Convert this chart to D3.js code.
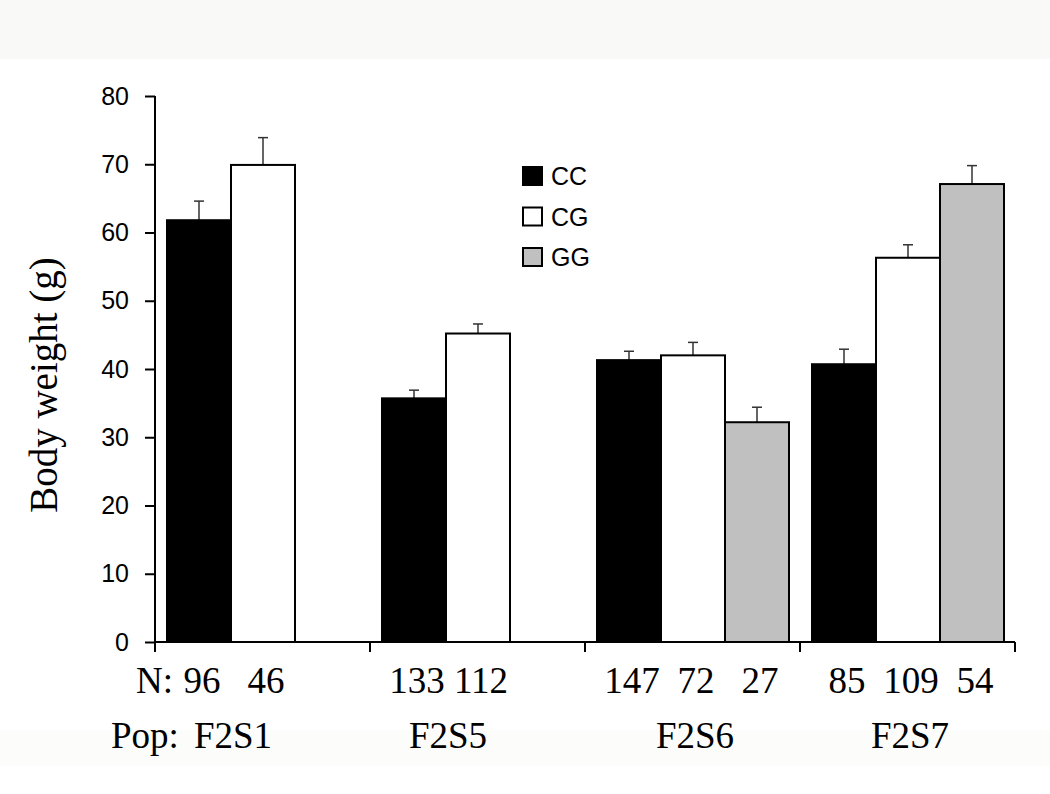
<!DOCTYPE html>
<html>
<head>
<meta charset="utf-8">
<script src="https://cdn.jsdelivr.net/npm/d3@7"></script>
<style>
  body { margin: 0; background: #fff; }
  svg { display: block; }
</style>
</head>
<body>
<div id="chart"></div>
<script>
const pops = ["F2S1", "F2S5", "F2S6", "F2S7"];
const genotypes = ["CC", "CG", "GG"];
const colors = { CC: "#000000", CG: "#ffffff", GG: "#c0c0c0" };

// mean body weight per pop, per genotype (null = not present)
const means = {
  F2S1: [61.8, 69.9, null],
  F2S5: [35.7, 45.2, null],
  F2S6: [41.3, 42.0, 32.2],
  F2S7: [40.7, 56.3, 67.1]
};
const errs = {
  F2S1: [2.8, 4.0, null],
  F2S5: [1.2, 1.4, null],
  F2S6: [1.3, 1.9, 2.2],
  F2S7: [2.2, 1.9, 2.7]
};
const counts = {
  F2S1: [96, 46, null],
  F2S5: [133, 112, null],
  F2S6: [147, 72, 27],
  F2S7: [85, 109, 54]
};
const yTicks = [0, 10, 20, 30, 40, 50, 60, 70, 80];

const w = 1050;
const h = 794;
const margin = { left: 155, right: 35, top: 96, bottom: 152 };
const sans = "Liberation Sans, Arial, sans-serif";
const serif = "Liberation Serif, Times New Roman, serif";

const svg = d3.select("#chart")
  .append("svg")
  .attr("width", w)
  .attr("height", h);

// light scan band at the top
svg.append("rect")
  .attr("x", 0).attr("y", 0)
  .attr("width", w).attr("height", 59)
  .attr("fill", "#f9f9f7");
svg.append("rect")
  .attr("x", 0).attr("y", 730)
  .attr("width", w).attr("height", 36)
  .attr("fill", "#fcfcfb");

const x = d3.scaleBand()
  .domain(pops)
  .range([margin.left, w - margin.right]);

const xIn = d3.scaleBand()
  .domain(genotypes)
  .range([12, x.bandwidth() - 11]);

const y = d3.scaleLinear()
  .domain([0, 80])
  .range([h - margin.bottom, margin.top]);

// flatten to bars
let bars = [];
pops.forEach(p => {
  genotypes.forEach((g, i) => {
    if (means[p][i] != null) {
      bars.push({ pop: p, geno: g, v: means[p][i], e: errs[p][i], n: counts[p][i] });
    }
  });
});

const barX = d => x(d.pop) + xIn(d.geno);

// error bars (drawn first so bars cover the lower part)
const eb = svg.append("g");
eb.selectAll("line.stem")
  .data(bars)
  .enter()
  .append("line")
  .attr("x1", d => barX(d) + xIn.bandwidth() / 2)
  .attr("x2", d => barX(d) + xIn.bandwidth() / 2)
  .attr("y1", d => y(d.v))
  .attr("y2", d => y(d.v + d.e))
  .attr("stroke", "#333")
  .attr("stroke-width", 1.5);
eb.selectAll("line.cap")
  .data(bars)
  .enter()
  .append("line")
  .attr("x1", d => barX(d) + xIn.bandwidth() / 2 - 5)
  .attr("x2", d => barX(d) + xIn.bandwidth() / 2 + 5)
  .attr("y1", d => y(d.v + d.e))
  .attr("y2", d => y(d.v + d.e))
  .attr("stroke", "#333")
  .attr("stroke-width", 1.5);

// bars
svg.append("g")
  .selectAll("rect")
  .data(bars)
  .enter()
  .append("rect")
  .attr("x", d => barX(d))
  .attr("y", d => y(d.v))
  .attr("width", xIn.bandwidth())
  .attr("height", d => y(0) - y(d.v))
  .attr("fill", d => colors[d.geno])
  .attr("stroke", "#000")
  .attr("stroke-width", 2);

// y axis
const yAxis = d3.axisLeft(y)
  .tickValues(yTicks)
  .tickSize(10)
  .tickPadding(16);
const ya = svg.append("g")
  .attr("transform", `translate(${margin.left},0)`)
  .call(yAxis);
ya.select(".domain").attr("d", `M0,${y(80)}V${y(0) + 10}`).attr("stroke-width", 2);
ya.selectAll(".tick line").attr("stroke-width", 2);
ya.selectAll(".tick text")
  .attr("font-family", sans)
  .attr("font-size", 25)
  .attr("fill", "#000");

// x axis: only group boundary ticks
const xa = svg.append("g");
xa.append("line")
  .attr("x1", margin.left)
  .attr("x2", x.range()[1])
  .attr("y1", y(0))
  .attr("y2", y(0))
  .attr("stroke", "#000")
  .attr("stroke-width", 2);
xa.selectAll("line.bound")
  .data(pops.slice(1).map(p => x(p)).concat([x.range()[1]]))
  .enter()
  .append("line")
  .attr("x1", d => d)
  .attr("x2", d => d)
  .attr("y1", y(0))
  .attr("y2", y(0) + 10)
  .attr("stroke", "#000")
  .attr("stroke-width", 2);

// y title
svg.append("text")
  .attr("transform", `translate(57,${(y(0) + y(80)) / 2 + 16}) rotate(-90)`)
  .attr("text-anchor", "middle")
  .attr("font-family", serif)
  .attr("font-size", 39)
  .text("Body weight (g)");

// N counts
svg.append("g")
  .selectAll("text")
  .data(bars)
  .enter()
  .append("text")
  .attr("x", d => barX(d) + xIn.bandwidth() / 2 + 3)
  .attr("y", 693)
  .attr("text-anchor", "middle")
  .attr("font-family", serif)
  .attr("font-size", 37)
  .text(d => d.n);
svg.append("text")
  .attr("x", 136)
  .attr("y", 693)
  .attr("font-family", serif)
  .attr("font-size", 37)
  .text("N:");

// Pop labels, centred under the bars present
svg.append("g")
  .selectAll("text")
  .data(pops)
  .enter()
  .append("text")
  .attr("x", p => {
    const b = bars.filter(d => d.pop === p);
    return (barX(b[0]) + barX(b[b.length - 1]) + xIn.bandwidth()) / 2 + 2;
  })
  .attr("y", 748)
  .attr("text-anchor", "middle")
  .attr("font-family", serif)
  .attr("font-size", 37)
  .text(p => p);
svg.append("text")
  .attr("x", 111)
  .attr("y", 748)
  .attr("font-family", serif)
  .attr("font-size", 37)
  .text("Pop:");

// legend
const legend = svg.append("g")
  .attr("transform", "translate(523,167)");
const li = legend.selectAll("g")
  .data(genotypes)
  .enter()
  .append("g")
  .attr("transform", (d, i) => `translate(0,${i * 40.5})`);
li.append("rect")
  .attr("width", 19)
  .attr("height", 18)
  .attr("fill", d => colors[d])
  .attr("stroke", "#000")
  .attr("stroke-width", 2);
li.append("text")
  .attr("x", 28)
  .attr("y", 18)
  .attr("font-family", sans)
  .attr("font-size", 25)
  .text(d => d);
</script>
</body>
</html>
